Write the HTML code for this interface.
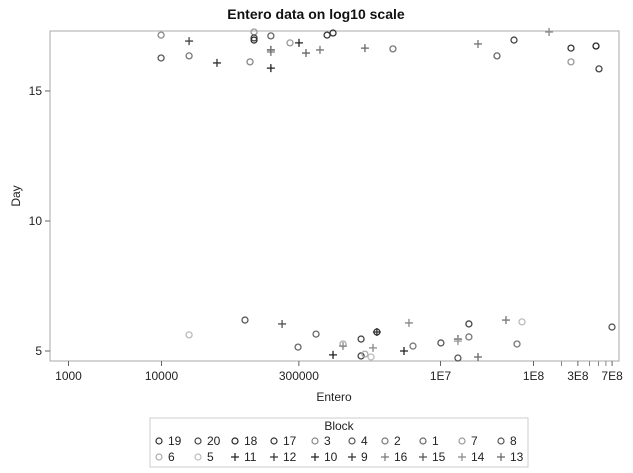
<!DOCTYPE html>
<html><head><meta charset="utf-8"><style>
body{margin:0;background:#fff;}
svg{display:block;font-family:"Liberation Sans",Arial,sans-serif;}
</style></head><body>
<svg id="chart" width="633" height="473" viewBox="0 0 633 473">
<text x="316" y="19" text-anchor="middle" font-size="14" font-weight="bold" fill="#111">Entero data on log10 scale</text>
<rect x="50" y="31" width="569" height="330" fill="none" stroke="#aaa" stroke-width="1"/>
<g id="xaxis"></g>
<g id="yaxis"></g>
<g id="marks"></g>
<text x="334" y="401" text-anchor="middle" font-size="12" fill="#222">Entero</text>
<text x="20" y="196" text-anchor="middle" font-size="12" fill="#222" transform="rotate(-90 20 196)">Day</text>
<g>
<rect x="150" y="418" width="378" height="49" fill="none" stroke="#ccc"/>
<text x="339" y="430" text-anchor="middle" font-size="12" fill="#222">Block</text>
<g id="legend-items"></g>
</g>
</svg>
<script>
const xTickVals=[1000,10000,300000,1e7,1e8,3e8,7e8];
const xTickLabels=["1000","10000","300000","1E7","1E8","3E8","7E8"];
const xMinorVals=[2e8,4e8,5e8,6e8];
const yTickVals=[5,10,15];
const circleEntero=[9900,9900,19800,89500,98900,98900,98900,150000,241000,603000,699000,3080000,40500000,61700000,253000000,253000000,470000000,506000000,
79000,19800,459000,294000,895000,1400000,2070000,1400000,1540000,1790000,5060000,10100000,20200000,20200000,66500000,75200000,698000000,15400000];
const circleDay=[17.15,16.27,16.35,16.12,17.27,17.04,16.96,17.12,16.85,17.15,17.23,16.62,16.35,16.96,16.65,16.12,16.73,15.85,
6.19,5.62,5.65,5.15,5.27,5.46,5.73,4.81,4.88,4.77,5.19,5.31,6.04,5.54,5.27,6.12,5.92,4.73];
const circleShade=["#888","#555","#777","#888","#999","#444","#333","#666","#999","#333","#333","#777","#666","#444","#333","#999","#222","#444",
"#555","#bbb","#666","#666","#aaa","#444","#333","#444","#aaa","#bbb","#777","#555","#444","#777","#777","#bbb","#555","#555"];
const plusEntero=[19800,39500,150000,150000,150000,358000,301000,506000,1540000,25300000,147000000,
198000,699000,895000,2070000,1880000,4050000,4580000,15400000,15400000,25300000,50600000];
const plusDay=[16.92,16.08,16.58,16.5,15.88,16.46,16.85,16.58,16.65,16.81,17.27,
6.04,4.85,5.19,5.73,5.12,5.0,6.08,5.46,5.38,4.77,6.19];
const plusShade=["#444","#333","#555","#777","#222","#666","#222","#777","#666","#777","#888",
"#555","#222","#888","#333","#888","#222","#888","#666","#999","#666","#777"];
const legendLabels=["19","20","18","17","3","4","2","1","7","8","6","5","11","12","10","9","16","15","14","13"];
const legendMarks=["o","o","o","o","o","o","o","o","o","o","o","o","+","+","+","+","+","+","+","+"];
const legendShade=["#333","#444","#222","#333","#888","#555","#777","#666","#999","#555","#aaa","#bbb","#222","#333","#222","#333","#777","#555","#888","#666"];

const NS="http://www.w3.org/2000/svg";
function X(v){return 68.5+(Math.log10(v)-3)*93;}
function Y(d){return 91-(d-15)*26;}
function mk(t,a,p){const e=document.createElementNS(NS,t);for(const k in a)e.setAttribute(k,a[k]);p.appendChild(e);return e;}
const xa=document.getElementById('xaxis'),ya=document.getElementById('yaxis'),mg=document.getElementById('marks');
xTickVals.forEach((v,i)=>{
 const l=mk('line',{x1:X(v),x2:X(v),y1:361,y2:366,stroke:'#666'},xa);
 
 
 const t=mk('text',{x:X(v),y:380,'text-anchor':'middle','font-size':12,fill:'#222'},xa);
 t.textContent=xTickLabels[i];
 
 
});
xMinorVals.forEach(v=>{
 const l=mk('line',{x1:X(v),x2:X(v),y1:361,y2:366,stroke:'#888'},xa);
 
 
});
yTickVals.forEach(v=>{
 const l=mk('line',{x1:45,x2:50,y1:Y(v),y2:Y(v),stroke:'#666'},ya);
 
 
 const t=mk('text',{x:42,y:Y(v)+4,'text-anchor':'end','font-size':12,fill:'#222'},ya);
 t.textContent=String(v);
 
 
});
circleEntero.forEach((v,i)=>{
 const c=mk('circle',{cx:X(v),cy:Y(circleDay[i]),r:3,fill:'none',stroke:circleShade[i],'stroke-width':1.3},mg);
 
 
});
plusEntero.forEach((v,i)=>{
 const x=X(v),y=Y(plusDay[i]);
 const p=mk('path',{d:`M${x-4} ${y}H${x+4}M${x} ${y-4}V${y+4}`,stroke:plusShade[i],'stroke-width':1.3,fill:'none'},mg);
 
 
});
const lg=document.getElementById('legend-items');
const colX=[159,198,235,274,315,352,385,423,462,501];
legendLabels.forEach((lab,i)=>{
 const x=colX[i%10],y=i<10?441:457;
 let m;
 if(legendMarks[i]==='o') m=mk('circle',{cx:x,cy:y,r:3,fill:'none',stroke:legendShade[i],'stroke-width':1.2},lg);
 else m=mk('path',{d:`M${x-4} ${y}H${x+4}M${x} ${y-4}V${y+4}`,stroke:legendShade[i],'stroke-width':1.2},lg);
 
 
 const t=mk('text',{x:x+9,y:y+4,'font-size':12,fill:'#222'},lg);
 t.textContent=lab;
 
 
});
</script>
</body></html>
